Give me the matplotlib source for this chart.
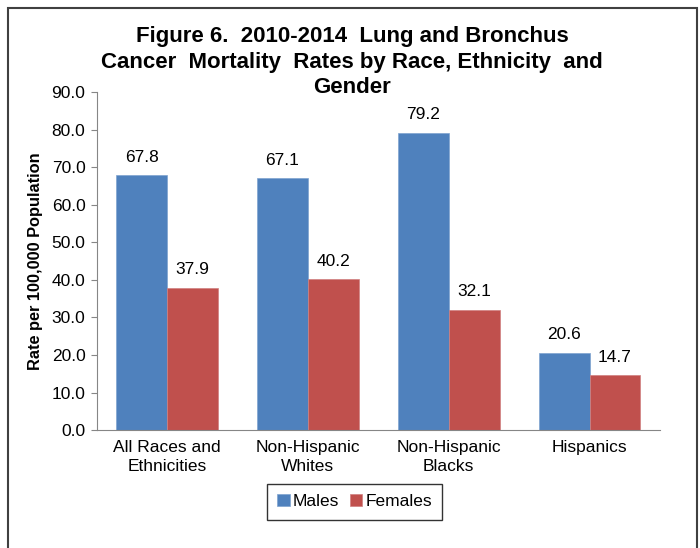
import matplotlib.pyplot as plt
import numpy as np
from matplotlib.patches import Rectangle

plt.rcParams['font.family'] = ['Liberation Sans', 'DejaVu Sans']

categories = ['All Races and\nEthnicities', 'Non-Hispanic\nWhites', 'Non-Hispanic\nBlacks', 'Hispanics']
males = [67.8, 67.1, 79.2, 20.6]
females = [37.9, 40.2, 32.1, 14.7]
series_names = ['Males', 'Females']
colors = ['#4F81BD', '#C0504D']

fig = plt.figure(figsize=(7, 5.48), dpi=100)
ax = fig.add_axes([0.138, 0.215, 0.805, 0.617])

x = np.arange(len(categories))
w = 0.36
b1 = ax.bar(x - w / 2, males, w, color=colors[0], edgecolor='#7FA3D0', linewidth=0.5, label=series_names[0])
b2 = ax.bar(x + w / 2, females, w, color=colors[1], edgecolor='#D08080', linewidth=0.5, label=series_names[1])

for bars, vals in [(b1, males), (b2, females)]:
    for r, v in zip(bars, vals):
        ax.annotate(f'{v:.1f}', (r.get_x() + r.get_width() / 2, v), xytext=(0, 7.5),
                    textcoords='offset points', ha='center', va='bottom', fontsize=12.5)

ax.set_xlim(-0.5, len(categories) - 0.5)
ax.set_ylim(0, 90)
ax.set_yticks(np.arange(0, 91, 10))
ax.set_yticklabels([f'{t:.1f}' for t in np.arange(0, 91, 10)], fontsize=12.5)
ax.set_xticks(x)
ax.set_xticklabels(categories, fontsize=12.5, linespacing=1.3)
ax.tick_params(axis='x', length=0, pad=7)
ax.tick_params(axis='y', length=4, color='#868686', pad=4)
for s in ['top', 'right']:
    ax.spines[s].set_visible(False)
for s in ['left', 'bottom']:
    ax.spines[s].set_color('#868686')
ax.set_ylabel('Rate per 100,000 Population', fontsize=11.8, fontweight='bold', labelpad=6)

fig.suptitle('Figure 6.  2010-2014  Lung and Bronchus\nCancer  Mortality  Rates by Race, Ethnicity  and\nGender',
             x=0.503, y=0.952, fontsize=16, fontweight='bold', linespacing=1.27)

leg = ax.legend(loc='center', bbox_to_anchor=(0.458, -0.212), ncol=2, frameon=True, fancybox=False,
                fontsize=12.5, handlelength=0.7, handleheight=0.7, handletextpad=0.2, columnspacing=0.6,
                borderpad=0.6, borderaxespad=0)
leg.get_frame().set_edgecolor('black')
leg.get_frame().set_linewidth(1.0)

fig.patches.append(Rectangle((8 / 700, -0.05), 689 / 700, 1.05 - 8 / 548, transform=fig.transFigure,
                             fill=False, edgecolor='#404040', linewidth=1.5))

fig.savefig('out.png', dpi=100)
